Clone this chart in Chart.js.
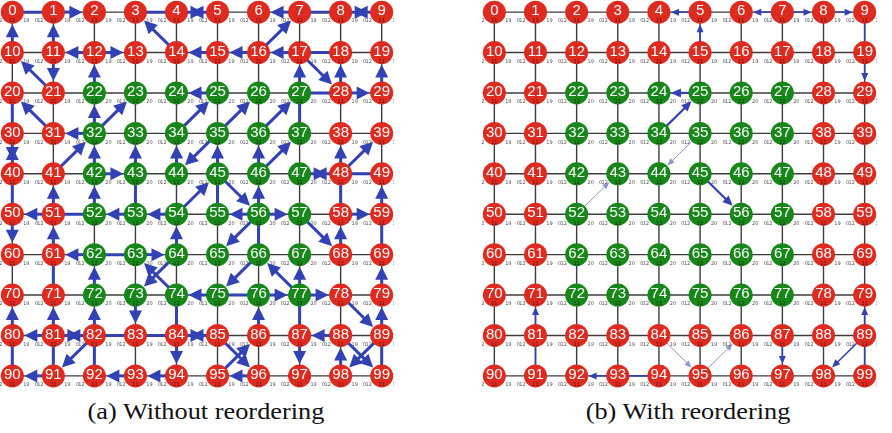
<!DOCTYPE html>
<html>
<head>
<meta charset="utf-8">
<script src="https://cdn.jsdelivr.net/npm/chart.js@4/dist/chart.umd.min.js"></script>
<style>
  html, body { margin: 0; padding: 0; background: #fff; width: 892px; height: 433px; overflow: hidden; position: relative; }
  canvas { position: absolute; top: 0; }
  #netA { left: 0; }
  #netB { left: 482px; }
  .cap { position: absolute; top: 399px; font-family: "Liberation Serif", "DejaVu Serif", serif; font-size: 23px; color: #111; white-space: nowrap; transform-origin: 50% 50%; }
</style>
</head>
<body>
<canvas id="netA" width="394" height="388"></canvas>
<canvas id="netB" width="395" height="388"></canvas>
<div class="cap" id="capA" style="left:206px">(a) Without reordering</div>
<div class="cap" id="capB" style="left:688px">(b) With reordering</div>
<script>
// 10 x 10 processor mesh; node id = row * 10 + col
const meshCols = [0, 1, 2, 3, 4, 5, 6, 7, 8, 9];
const meshRows = [0, 1, 2, 3, 4, 5, 6, 7, 8, 9];
// inner block of nodes that belong to the second group
const innerRows = [2, 3, 4, 5, 6, 7];
const innerCols = [2, 3, 4, 5, 6, 7];

// small per-node annotation strings (outer / inner group)
const tinyOuter = ['12', '11', '19', '0'];
const tinyInner = ['12', '12', '20', '0'];

// (a) without reordering: directed transfers [from, to]
const arrowsA = [
  [1, 2], [14, 3], [16, 7], [7, 6], [10, 0], [11, 1], [11, 21], [21, 10], [12, 11], [12, 13],
  [15, 14], [16, 15], [17, 16], [17, 28], [28, 18], [29, 19], [28, 29], [27, 17], [36, 27], [35, 26],
  [25, 24], [34, 25], [22, 12], [31, 20], [32, 31], [32, 22], [32, 23], [41, 32], [42, 32], [42, 43],
  [43, 33], [44, 34], [35, 44], [54, 45], [45, 35], [46, 36], [46, 37], [48, 38], [48, 39], [59, 49],
  [51, 50], [50, 60], [61, 51], [51, 41], [52, 42], [53, 52], [54, 53], [62, 61], [72, 62], [81, 71],
  [80, 70], [81, 80], [82, 72], [82, 91], [73, 83], [84, 94], [91, 90], [93, 92], [94, 93], [64, 54],
  [63, 64], [74, 63], [64, 73], [75, 74], [45, 56], [56, 55], [56, 57], [56, 46], [56, 65], [66, 75],
  [77, 66], [77, 67], [76, 77], [86, 76], [57, 68], [58, 59], [68, 58], [79, 69], [89, 79], [78, 89],
  [77, 78], [88, 87], [87, 97], [98, 88], [89, 98], [88, 99], [85, 96], [95, 86], [96, 95]
];
// (a) path segments without a head
const pathsA = [
  [0, 1], [3, 4], [7, 8], [17, 18], [27, 28], [37, 27], [20, 30], [40, 50], [48, 49], [58, 48],
  [51, 52], [53, 43], [62, 63], [61, 71], [82, 83], [83, 84], [74, 84], [81, 91], [82, 92], [80, 90],
  [69, 59], [99, 89], [87, 77], [66, 56], [45, 55], [75, 76]
];
// (a) exchanges in both directions
const swapsA = [[4, 5], [8, 9], [30, 40], [47, 48], [81, 82], [84, 85]];

// (b) with reordering
const arrowsB = [
  [5, 4], [7, 6], [7, 8], [8, 9], [15, 5], [19, 29], [81, 71], [93, 92], [87, 97], [89, 98], [89, 79]
];
const strongB = [[25, 24], [34, 25], [45, 56]];
const faintB = [[35, 44], [52, 43], [84, 95], [95, 86]];
const pathsB = [[91, 81], [94, 93], [99, 89], [9, 19]];

const RED = '#df2a1f';
const GREEN = '#17871a';
const BLUE = '#3242b4';
const GRID = '#3c3c3c';
const NODE_R = 11.5;

function isInner(n) {
  return innerRows.includes(Math.floor(n / 10)) && innerCols.includes(n % 10);
}

const nodeIds = [];
meshRows.forEach(r => meshCols.forEach(c => nodeIds.push(r * 10 + c)));
const nodePoints = nodeIds.map(n => ({ x: n % 10, y: Math.floor(n / 10) }));
const nodeColors = nodeIds.map(n => isInner(n) ? GREEN : RED);

function makeMeshPlugin(spec) {
  return {
    id: 'meshEdges',
    beforeDatasetsDraw(chart) {
      const ctx = chart.ctx, xs = chart.scales.x, ys = chart.scales.y;
      const P = n => [xs.getPixelForValue(n % 10), ys.getPixelForValue(Math.floor(n / 10))];
      ctx.save();
      ctx.lineCap = 'butt';
      // mesh links
      ctx.strokeStyle = GRID;
      ctx.lineWidth = 1.4;
      meshRows.forEach(r => {
        const a = P(r * 10), b = P(r * 10 + 9);
        ctx.beginPath(); ctx.moveTo(a[0], a[1]); ctx.lineTo(b[0], b[1]); ctx.stroke();
      });
      meshCols.forEach(c => {
        const a = P(c), b = P(90 + c);
        ctx.beginPath(); ctx.moveTo(a[0], a[1]); ctx.lineTo(b[0], b[1]); ctx.stroke();
      });

      const head = (tx, ty, ux, uy, len, hw, color) => {
        ctx.fillStyle = color;
        ctx.beginPath();
        ctx.moveTo(tx, ty);
        ctx.lineTo(tx - ux * len - uy * hw, ty - uy * len + ux * hw);
        ctx.lineTo(tx - ux * len + uy * hw, ty - uy * len - ux * hw);
        ctx.closePath();
        ctx.fill();
      };
      const seg = (a, b, st) => {
        ctx.strokeStyle = st.color; ctx.lineWidth = st.width;
        ctx.beginPath(); ctx.moveTo(a[0], a[1]); ctx.lineTo(b[0], b[1]); ctx.stroke();
      };

      spec.groups.forEach(g => {
        const st = g.style;
        g.edges.forEach(([f, t]) => {
          const a = P(f), b = P(t);
          const dx = b[0] - a[0], dy = b[1] - a[1];
          const L = Math.hypot(dx, dy), ux = dx / L, uy = dy / L;
          if (g.kind === 'path') {
            seg(a, b, st);
          } else if (g.kind === 'arrow') {
            const tip = [b[0] - ux * (NODE_R + 0.5), b[1] - uy * (NODE_R + 0.5)];
            const end = [tip[0] - ux * st.head * 0.8, tip[1] - uy * st.head * 0.8];
            seg(a, end, st);
            head(tip[0], tip[1], ux, uy, st.head, st.hw, st.color);
          } else if (g.kind === 'swap') {
            seg(a, b, st);
            const mx = (a[0] + b[0]) / 2, my = (a[1] + b[1]) / 2, h = st.head / 2;
            head(mx + ux * h, my + uy * h, ux, uy, st.head, st.hw, st.color);
            head(mx - ux * h, my - uy * h, -ux, -uy, st.head, st.hw, st.color);
          }
        });
      });
      ctx.restore();
    },
    afterDatasetsDraw(chart) {
      const ctx = chart.ctx, xs = chart.scales.x, ys = chart.scales.y;
      ctx.save();
      nodeIds.forEach(n => {
        const x = xs.getPixelForValue(n % 10), y = ys.getPixelForValue(Math.floor(n / 10));
        // small annotation under each node
        const t = isInner(n) ? tinyInner : tinyOuter;
        ctx.font = '5px "DejaVu Sans", sans-serif';
        ctx.textAlign = 'center';
        ctx.textBaseline = 'middle';
        ctx.fillStyle = '#555';
        ctx.fillText(t[0], x - 13, y + 9);
        ctx.fillStyle = 'rgba(40,20,20,0.8)';
        ctx.fillText(t[1], x, y + 9);
        ctx.fillStyle = '#555';
        ctx.fillText(t[2], x + 14, y + 9);
        ctx.fillText(t[3], x + 24, y + 9);
        // node number
        ctx.font = '15px "Liberation Sans", Arial, sans-serif';
        ctx.fillStyle = '#ffffff';
        ctx.fillText(String(n), x, y - 1);
      });
      ctx.restore();
    }
  };
}

function makeMesh(canvasId, spec) {
  return new Chart(document.getElementById(canvasId), {
    type: 'scatter',
    data: {
      datasets: [{
        data: nodePoints,
        pointRadius: NODE_R,
        pointHoverRadius: NODE_R,
        pointBackgroundColor: nodeColors,
        pointBorderColor: nodeColors,
        pointBorderWidth: 0,
        clip: false
      }]
    },
    options: {
      responsive: false,
      animation: false,
      events: [],
      layout: { padding: 0, autoPadding: false },
      plugins: { legend: { display: false }, tooltip: { enabled: false } },
      scales: {
        x: { type: 'linear', min: -0.3, max: 9.3, display: false },
        y: { type: 'linear', min: -0.3, max: 9.3, reverse: true, display: false }
      }
    },
    plugins: [makeMeshPlugin(spec)]
  });
}

const thick = { color: BLUE, width: 3, head: 13, hw: 6.5 };
makeMesh('netA', {
  groups: [
    { kind: 'path', edges: pathsA, style: thick },
    { kind: 'swap', edges: swapsA, style: thick },
    { kind: 'arrow', edges: arrowsA, style: thick }
  ]
});

makeMesh('netB', {
  groups: [
    { kind: 'path', edges: pathsB, style: { color: BLUE, width: 1.6, head: 8, hw: 3.5 } },
    { kind: 'arrow', edges: faintB, style: { color: '#8f95cf', width: 1, head: 7, hw: 3 } },
    { kind: 'arrow', edges: arrowsB, style: { color: BLUE, width: 1.6, head: 8, hw: 3.5 } },
    { kind: 'arrow', edges: strongB, style: { color: BLUE, width: 2.2, head: 10, hw: 4.5 } }
  ]
});

// stretch the caption line to the panel caption width
const capA = document.getElementById('capA');
const capB = document.getElementById('capB');
const k = 237 / capA.offsetWidth;
[capA, capB].forEach(el => { el.style.transform = 'translateX(-50%) scaleX(' + k.toFixed(3) + ')'; });
</script>
</body>
</html>
